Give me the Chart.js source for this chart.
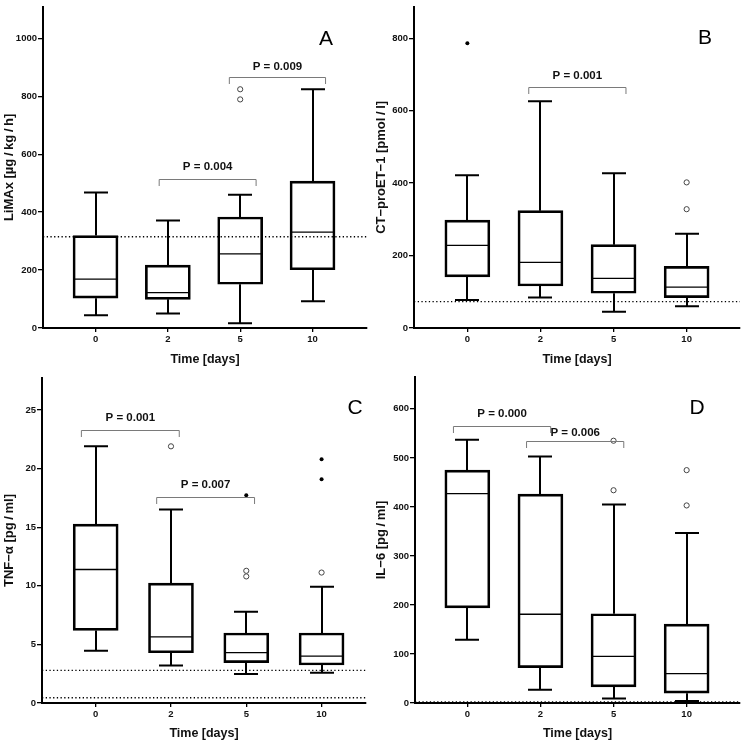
<!DOCTYPE html>
<html><head><meta charset="utf-8">
<script src="https://cdn.jsdelivr.net/npm/chart.js@4/dist/chart.umd.min.js"></script>
<style>
html,body{margin:0;padding:0;background:#fff;}
#wrap{position:relative;width:745px;height:744px;overflow:hidden;}
.p{position:absolute;}
</style></head><body>
<div id="wrap">
<div class="p" style="left:0;top:0;width:372px;height:370px"><canvas id="cA"></canvas></div>
<div class="p" style="left:372px;top:0;width:373px;height:370px"><canvas id="cB"></canvas></div>
<div class="p" style="left:0;top:370px;width:372px;height:374px"><canvas id="cC"></canvas></div>
<div class="p" style="left:372px;top:370px;width:373px;height:374px"><canvas id="cD"></canvas></div>
</div>
<script>
const categories = ['0', '2', '5', '10'];

// Panel A: LiMAx [µg/kg/h]
const limaxMin    = [44, 50, 16, 92];
const limaxQ1     = [103, 99, 151, 201];
const limaxMedian = [169, 122, 256, 331];
const limaxQ3     = [319, 217, 383, 507];
const limaxMax    = [468, 371, 460, 824];
const limaxOpen   = [[], [], [824, 789], []];
const limaxFilled = [[], [], [], []];
const limaxRef    = [315];
const limaxTicks  = [0, 200, 400, 600, 800, 1000];
const limaxPvals  = [
  {x1: 0.88, x2: 2.22, y: 515, ty: 556, label: 'P = 0.004'},
  {x1: 1.85, x2: 3.18, y: 868, ty: 901, label: 'P = 0.009'}
];

// Panel B: CT-proET-1 [pmol/l]
const etMin    = [77, 84, 45, 60];
const etQ1     = [141, 116, 96, 84];
const etMedian = [228, 181, 137, 113];
const etQ3     = [298, 324, 230, 170];
const etMax    = [422, 626, 427, 260];
const etOpen   = [[], [], [], [402, 328]];
const etFilled = [[786], [], [], []];
const etRef    = [73];
const etTicks  = [0, 200, 400, 600, 800];
const etPvals  = [
  {x1: 0.84, x2: 2.17, y: 665, ty: 697, label: 'P = 0.001'}
];

// Panel C: TNF-α [pg/ml]
const tnfMin    = [4.46, 3.21, 2.47, 2.58];
const tnfQ1     = [6.19, 4.29, 3.44, 3.24];
const tnfMedian = [11.39, 5.65, 4.29, 4.0];
const tnfQ3     = [15.26, 10.23, 5.97, 5.97];
const tnfMax    = [21.9, 16.5, 7.78, 9.91];
const tnfOpen   = [[], [21.9], [11.28, 10.8], [11.13]];
const tnfFilled = [[], [], [17.73], [20.8, 19.1]];
const tnfRef    = [2.78, 0.45];
const tnfTicks  = [0, 5, 10, 15, 20, 25];
const tnfPvals  = [
  {x1: -0.19, x2: 1.11, y: 23.27, ty: 24.3, label: 'P = 0.001'},
  {x1: 0.81, x2: 2.11, y: 17.61, ty: 18.6, label: 'P = 0.007'}
];

// Panel D: IL-6 [pg/ml]
const il6Min    = [129, 27, 9, 4];
const il6Q1     = [194, 72, 33, 20];
const il6Median = [427, 181, 95, 60];
const il6Q3     = [475, 426, 182, 161];
const il6Max    = [537, 503, 405, 347];
const il6Open   = [[], [], [535, 434], [475, 403]];
const il6Filled = [[], [], [], []];
const il6Ref    = [2];
const il6Ticks  = [0, 100, 200, 300, 400, 500, 600];
const il6Pvals  = [
  {x1: -0.19, x2: 1.14, y: 565, ty: 590, label: 'P = 0.000'},
  {x1: 0.81, x2: 2.14, y: 535, ty: 551, label: 'P = 0.006'}
];

const FONT2 = "'Liberation Sans', Arial, sans-serif";

function extrasPlugin(d, o) {
  return {
    id: 'boxExtras',
    beforeDatasetsDraw(chart) {
      const {ctx, scales: {x, y}, chartArea: ca} = chart;
      ctx.save();
      ctx.strokeStyle = '#000';
      ctx.lineWidth = 2;
      ctx.lineCap = 'butt';
      d.q1.forEach((_, i) => {
        const px = Math.round(x.getPixelForValue(i));
        const yTop = y.getPixelForValue(d.max[i]);
        const yQ3 = y.getPixelForValue(d.q3[i]);
        const yQ1 = y.getPixelForValue(d.q1[i]);
        const yBot = y.getPixelForValue(d.min[i]);
        ctx.beginPath();
        ctx.moveTo(px, yQ3); ctx.lineTo(px, yTop);
        ctx.moveTo(px, yQ1); ctx.lineTo(px, yBot);
        ctx.moveTo(px - 12, yTop); ctx.lineTo(px + 12, yTop);
        ctx.moveTo(px - 12, yBot); ctx.lineTo(px + 12, yBot);
        ctx.stroke();
      });
      ctx.lineWidth = 1.3;
      ctx.setLineDash([1.3, 2.4]);
      d.ref.forEach(v => {
        const py = y.getPixelForValue(v);
        ctx.beginPath();
        ctx.moveTo(ca.left, py); ctx.lineTo(ca.right, py);
        ctx.stroke();
      });
      ctx.restore();
    },
    afterDatasetsDraw(chart) {
      const {ctx, scales: {x, y}} = chart;
      ctx.save();
      ctx.strokeStyle = '#000';
      ctx.lineWidth = 1.3;
      d.median.forEach((m, i) => {
        const px = x.getPixelForValue(i);
        const py = y.getPixelForValue(m);
        ctx.beginPath();
        ctx.moveTo(px - 22, py); ctx.lineTo(px + 22, py);
        ctx.stroke();
      });
      ctx.strokeStyle = '#7a7a7a';
      ctx.lineWidth = 1;
      ctx.fillStyle = '#111';
      ctx.font = "bold 11.5px " + FONT2;
      ctx.textAlign = 'center';
      ctx.textBaseline = 'middle';
      d.pvals.forEach(b => {
        const a = x.getPixelForValue(b.x1), c = x.getPixelForValue(b.x2);
        const py = Math.round(y.getPixelForValue(b.y)) + 0.5;
        ctx.beginPath();
        ctx.moveTo(a, py + 6.5); ctx.lineTo(a, py); ctx.lineTo(c, py); ctx.lineTo(c, py + 6.5);
        ctx.stroke();
        ctx.fillText(b.label, (a + c) / 2, y.getPixelForValue(b.ty));
      });
      ctx.fillStyle = '#000';
      ctx.font = "21px " + FONT2;
      ctx.fillText(o.letter, o.lx, o.ly);
      ctx.restore();
    }
  };
}

function makePanel(id, d, o) {
  const toPts = arr => arr.flatMap((vals, i) => vals.map(v => ({x: i, y: v})));
  const datasets = [
    {
      type: 'bar',
      data: categories.map((c, i) => ({x: i, y: [d.q1[i], d.q3[i]]})),
      backgroundColor: 'rgba(255,255,255,0)',
      borderColor: '#000',
      borderWidth: 2,
      borderSkipped: false,
      barThickness: 45,
      grouped: false
    },
    {
      type: 'scatter',
      data: toPts(d.open),
      pointRadius: 2.6,
      pointBackgroundColor: '#fff',
      pointBorderColor: '#444',
      pointBorderWidth: 1
    },
    {
      type: 'scatter',
      data: toPts(d.filled),
      pointRadius: 2,
      pointBackgroundColor: '#000',
      pointBorderColor: '#000',
      pointBorderWidth: 0
    }
  ];
  new Chart(document.getElementById(id), {
    type: 'scatter',
    data: {datasets},
    options: {
      responsive: true,
      maintainAspectRatio: false,
      animation: false,
      events: [],
      layout: {padding: {top: o.padTop, right: o.padR, left: 0, bottom: 0}},
      plugins: {legend: {display: false}, tooltip: {enabled: false}},
      scales: {
        x: {
          type: 'linear',
          min: o.xmin, max: o.xmax,
          offset: false,
          afterBuildTicks: s => { s.ticks = categories.map((c, i) => ({value: i})); },
          afterFit: s => { s.height = o.bottomH; },
          grid: {display: true, drawOnChartArea: false, drawTicks: true, tickLength: 4, color: '#000', lineWidth: 1.3, offset: false},
          border: {display: true, color: '#000', width: 2},
          ticks: {
            callback: v => categories[v] !== undefined ? categories[v] : '',
            color: '#111', padding: 2, maxRotation: 0, autoSkip: false,
            font: {family: FONT2, size: 9.5, weight: 'bold'}
          },
          title: {display: true, text: 'Time [days]', color: '#111', padding: {top: 4, bottom: 3},
                  font: {family: FONT2, size: 12.5, weight: 'bold'}}
        },
        y: {
          type: 'linear',
          min: 0, max: o.ymax,
          afterBuildTicks: s => { s.ticks = d.ticks.map(v => ({value: v})); },
          afterFit: s => { s.width = o.leftW; },
          grid: {display: true, drawOnChartArea: false, drawTicks: true, tickLength: 5, color: '#000', lineWidth: 1.3},
          border: {display: true, color: '#000', width: 2},
          ticks: {
            callback: v => String(v),
            color: '#111', padding: 1,
            font: {family: FONT2, size: 9.5, weight: 'bold'}
          },
          title: {display: true, text: o.ytitle, color: '#111', padding: {top: 2, bottom: 0},
                  font: {family: FONT2, size: 13, weight: 'bold'}}
        }
      }
    },
    plugins: [extrasPlugin(d, o)]
  });
}

makePanel('cA', {min: limaxMin, q1: limaxQ1, median: limaxMedian, q3: limaxQ3, max: limaxMax,
  open: limaxOpen, filled: limaxFilled, ref: limaxRef, ticks: limaxTicks, pvals: limaxPvals},
  {ytitle: 'LiMAx [µg\u2009/\u2009kg\u2009/\u2009h]', letter: 'A', lx: 326, ly: 39, padTop: 2, padR: 2, leftW: 43, bottomH: 42,
   xmin: -0.726, xmax: 3.753, ymax: 1109});

makePanel('cB', {min: etMin, q1: etQ1, median: etMedian, q3: etQ3, max: etMax,
  open: etOpen, filled: etFilled, ref: etRef, ticks: etTicks, pvals: etPvals},
  {ytitle: 'CT\u2212proET\u22121 [pmol\u2009/\u2009l]', letter: 'B', lx: 333, ly: 38, padTop: 2, padR: 2, leftW: 42, bottomH: 42,
   xmin: -0.73, xmax: 3.73, ymax: 887});

makePanel('cC', {min: tnfMin, q1: tnfQ1, median: tnfMedian, q3: tnfQ3, max: tnfMax,
  open: tnfOpen, filled: tnfFilled, ref: tnfRef, ticks: tnfTicks, pvals: tnfPvals},
  {ytitle: 'TNF\u2212\u03b1 [pg\u2009/\u2009ml]', letter: 'C', lx: 355, ly: 38, padTop: 8, padR: 6, leftW: 42, bottomH: 41,
   xmin: -0.713, xmax: 3.59, ymax: 27.73});

makePanel('cD', {min: il6Min, q1: il6Q1, median: il6Median, q3: il6Q3, max: il6Max,
  open: il6Open, filled: il6Filled, ref: il6Ref, ticks: il6Ticks, pvals: il6Pvals},
  {ytitle: 'IL\u22126 [pg\u2009/\u2009ml]', letter: 'D', lx: 325, ly: 38, padTop: 7, padR: 1, leftW: 43, bottomH: 41,
   xmin: -0.716, xmax: 3.73, ymax: 665});
</script>
</body></html>
